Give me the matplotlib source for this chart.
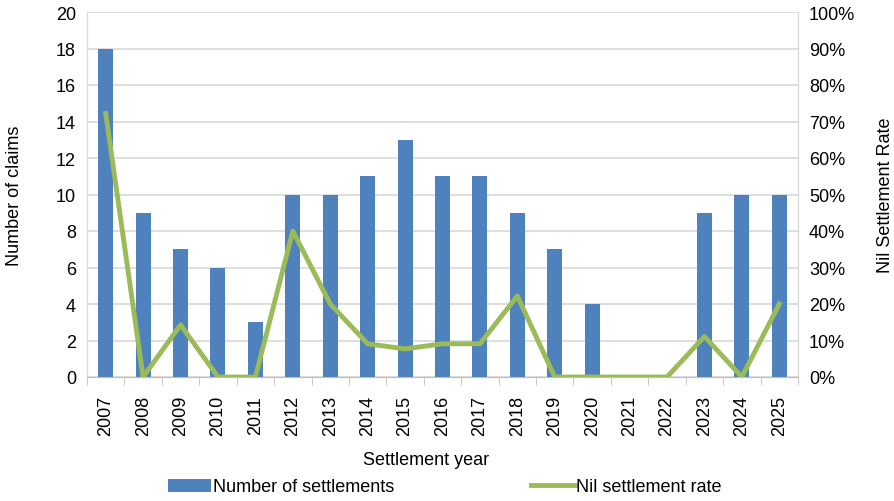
import numpy as np
import matplotlib.pyplot as plt
from matplotlib.ticker import PercentFormatter, FixedLocator

plt.rcParams['font.family'] = ['Liberation Sans', 'DejaVu Sans']

years = [str(y) for y in range(2007, 2026)]
settlements = [18, 9, 7, 6, 3, 10, 10, 11, 13, 11, 11, 9, 7, 4, 0, 0, 9, 10, 10]
nil_rate = [72.2, 0, 14.3, 0, 0, 40, 20, 9.1, 7.7, 9.1, 9.1, 22.2, 0, 0, 0, 0, 11.1, 0, 20]

fig = plt.figure(figsize=(8.95, 5.02), dpi=100)
ax = fig.add_axes([87/895, 1 - 378/502, (798-87)/895, (378-13)/502])
ax2 = ax.twinx()

x = np.arange(len(years))
bars = ax.bar(x, settlements, width=0.4, color='#4f81bd', zorder=3, label='Number of settlements')
line, = ax2.plot(x, nil_rate, color='#9bbb59', lw=3.5, zorder=4, label='Nil settlement rate')

ax.set_xlim(-0.5, len(years) - 0.5)
ax.set_ylim(0, 20)
ax.set_yticks(range(0, 21, 2))
ax2.set_ylim(0, 100)
ax2.set_yticks(range(0, 101, 10))
ax2.yaxis.set_major_formatter(PercentFormatter(decimals=0))

ax.set_xticks(x)
ax.set_xticklabels(years, rotation=90)
ax.xaxis.set_minor_locator(FixedLocator(np.arange(-0.5, len(years), 1)))
ax.tick_params(axis='x', which='major', length=0, pad=13, labelsize=13)
ax.tick_params(axis='x', which='minor', length=6, color='#bfbfbf')
ax.tick_params(axis='y', length=0, labelsize=13, pad=8)
ax2.tick_params(axis='y', length=0, labelsize=13, pad=8)

ax.grid(axis='y', color='#d9d9d9', lw=1.2, zorder=0)
for a in (ax, ax2):
    a.spines['top'].set_visible(False)
    a.spines['left'].set_color('#d9d9d9')
    a.spines['right'].set_color('#d9d9d9')
    a.spines['bottom'].set_color('#bfbfbf')

ax.set_zorder(ax2.get_zorder() - 1)
ax.patch.set_visible(True)
ax2.patch.set_visible(False)

ax.set_ylabel('Number of claims', fontsize=13, va='center')
ax.yaxis.set_label_coords((15 - 87) / 711, 0.5)
ax2.set_ylabel('Nil Settlement Rate', fontsize=13, va='center')
ax2.yaxis.set_label_coords((886 - 87) / 711, 0.5)
ax.set_xlabel('Settlement year', fontsize=13)
ax.xaxis.set_label_coords((426 - 87) / 711, -(452 - 378) / 365)

fig.legend([bars, line], ['Number of settlements', 'Nil settlement rate'],
           loc='center', bbox_to_anchor=(0.497, 1 - 488/502), ncol=2, frameon=False,
           fontsize=13, columnspacing=7.6, handlelength=2.4, handletextpad=0.1)

fig.savefig('out.png', dpi=100)
